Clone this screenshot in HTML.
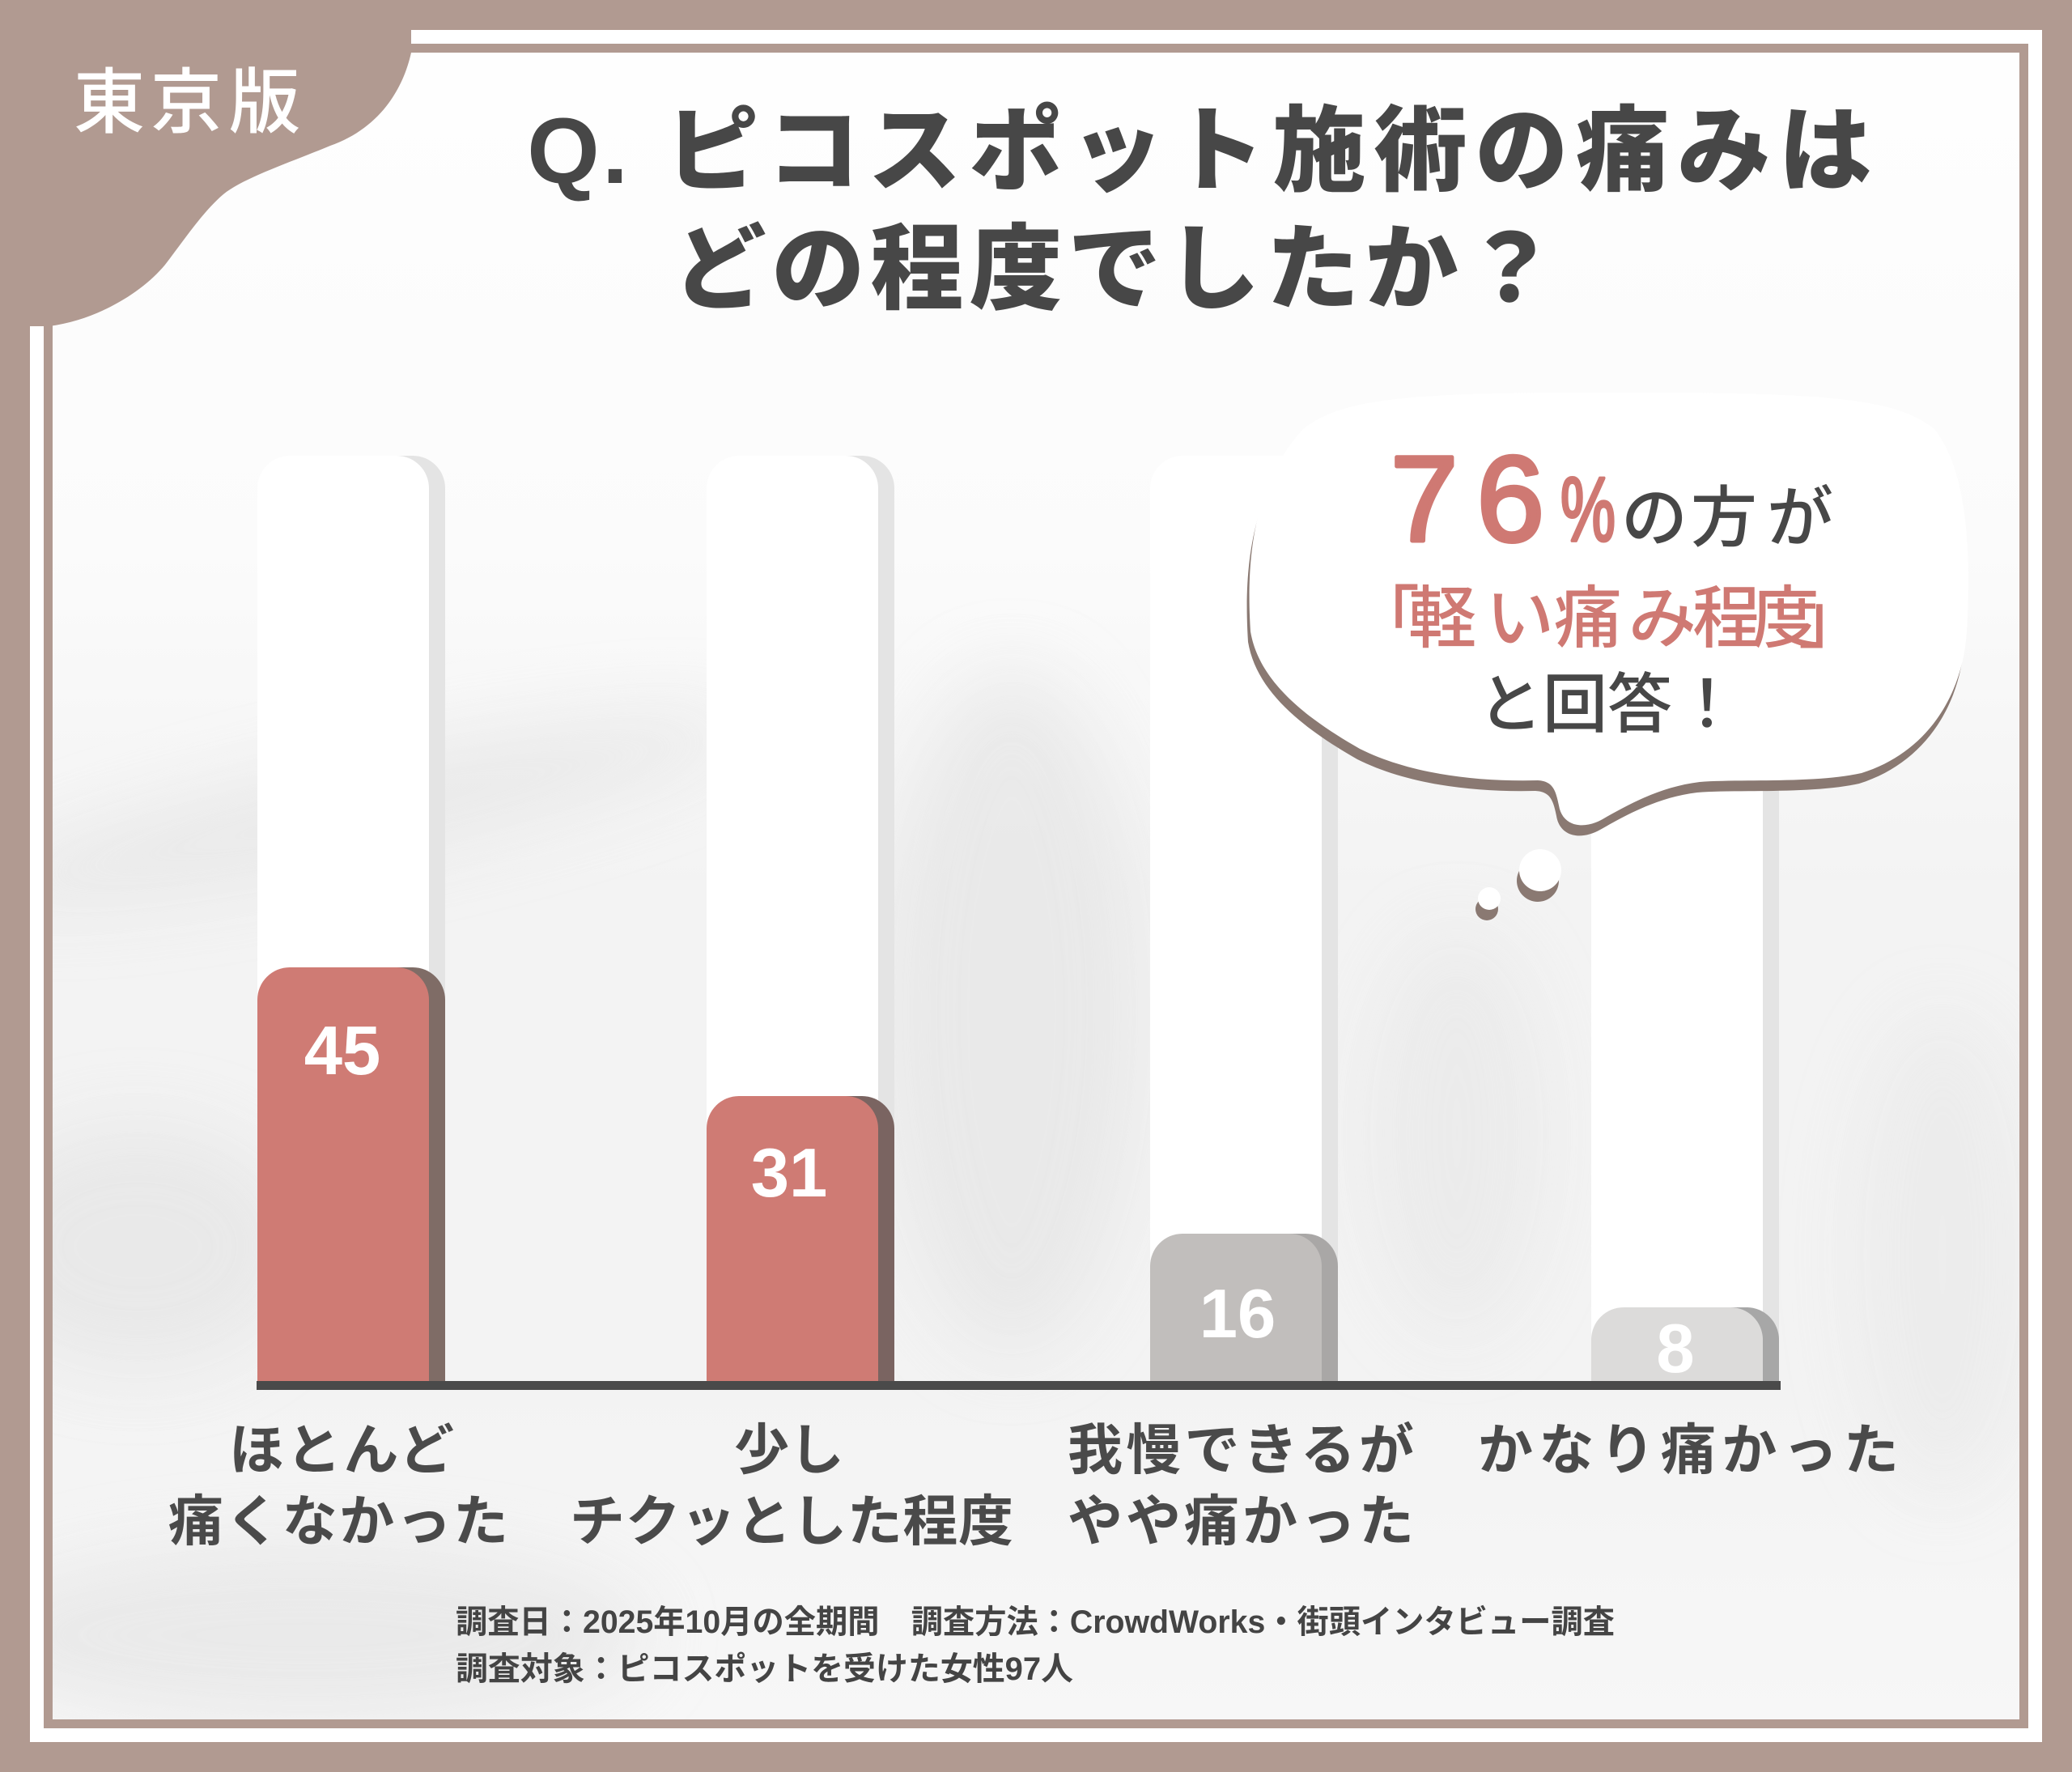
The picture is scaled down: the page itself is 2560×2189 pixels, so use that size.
<!DOCTYPE html>
<html><head><meta charset="utf-8">
<style>
html,body{margin:0;padding:0;background:#b19a91;}
svg{display:block;}
text{font-family:"Liberation Sans","Noto Sans CJK JP",sans-serif;}
</style></head>
<body>
<svg width="2560" height="2189" viewBox="0 0 2560 2189" xmlns="http://www.w3.org/2000/svg">
<defs>
  <linearGradient id="bg" x1="0" y1="0" x2="0" y2="1">
    <stop offset="0" stop-color="#fefefe"/>
    <stop offset="0.3" stop-color="#fbfbfb"/>
    <stop offset="0.5" stop-color="#f3f3f3"/>
    <stop offset="0.8" stop-color="#f3f3f3"/>
    <stop offset="1" stop-color="#f7f7f7"/>
  </linearGradient>
  <filter id="blur" x="-50%" y="-50%" width="200%" height="200%"><feGaussianBlur stdDeviation="45"/></filter>
  <clipPath id="panel"><rect x="65" y="65" width="2430" height="2059"/></clipPath>
</defs>

<!-- outer frame -->
<rect width="2560" height="2189" fill="#b19a91"/>
<rect x="45.5" y="45.5" width="2469" height="2098" fill="none" stroke="#ffffff" stroke-width="17"/>
<rect x="65" y="65" width="2430" height="2059" fill="url(#bg)"/>

<!-- soft texture -->
<g clip-path="url(#panel)">
  <g filter="url(#blur)" fill="#e3e3e3" opacity="0.65">
    <ellipse cx="450" cy="1000" rx="480" ry="60" transform="rotate(-12 450 1000)"/>
    <ellipse cx="170" cy="1540" rx="200" ry="150"/>
    <ellipse cx="380" cy="2020" rx="420" ry="110"/>
    <ellipse cx="1250" cy="1250" rx="160" ry="420"/>
    <ellipse cx="2400" cy="1550" rx="110" ry="300" opacity="0.6"/>
    <ellipse cx="1800" cy="1400" rx="110" ry="250" opacity="0.7"/>
  </g>
</g>

<!-- top-left taupe blob -->
<path d="M0 0 H508 V65 C497 115 465 160 408 180 C360 200 300 220 276 240 C250 262 225 300 204 327 C175 362 120 395 61 403 H0 Z" fill="#b19a91"/>
<text font-size="88" font-weight="500" fill="#ffffff" text-anchor="middle" y="157"><tspan x="135">東</tspan><tspan x="230">京</tspan><tspan x="327">版</tspan></text>

<!-- Title -->
<g font-size="115" font-weight="900" fill="#474747" text-anchor="middle">
  <text x="696" y="226">Q</text>
  <text x="760" y="226">.</text>
  <text x="880" y="226">ピ</text>
  <text x="1005" y="226">コ</text>
  <text x="1130" y="226">ス</text>
  <text x="1255" y="226">ポ</text>
  <text x="1380" y="226">ッ</text>
  <text x="1505" y="226">ト</text>
  <text x="1630" y="226">施</text>
  <text x="1755" y="226">術</text>
  <text x="1880" y="226">の</text>
  <text x="2005" y="226">痛</text>
  <text x="2130" y="226">み</text>
  <text x="2255" y="226">は</text>

  <text x="889" y="372">ど</text>
  <text x="1011" y="372">の</text>
  <text x="1133" y="372">程</text>
  <text x="1255" y="372">度</text>
  <text x="1377" y="372">で</text>
  <text x="1499" y="372">し</text>
  <text x="1622" y="372">た</text>
  <text x="1744" y="372">か</text>
  <text x="1866" y="372">？</text>
</g>

<!-- background columns -->
<g>
  <path d="M338 1706 V603 A40 40 0 0 1 378 563 H510 A40 40 0 0 1 550 603 V1706 Z" fill="#e4e4e4"/>
  <path d="M318 1706 V603 A40 40 0 0 1 358 563 H490 A40 40 0 0 1 530 603 V1706 Z" fill="#ffffff"/>
  <path d="M893 1706 V603 A40 40 0 0 1 933 563 H1065 A40 40 0 0 1 1105 603 V1706 Z" fill="#e4e4e4"/>
  <path d="M873 1706 V603 A40 40 0 0 1 913 563 H1045 A40 40 0 0 1 1085 603 V1706 Z" fill="#ffffff"/>
  <path d="M1441 1706 V603 A40 40 0 0 1 1481 563 H1613 A40 40 0 0 1 1653 603 V1706 Z" fill="#e4e4e4"/>
  <path d="M1421 1706 V603 A40 40 0 0 1 1461 563 H1593 A40 40 0 0 1 1633 603 V1706 Z" fill="#ffffff"/>
  <path d="M1986 1706 V603 A40 40 0 0 1 2026 563 H2158 A40 40 0 0 1 2198 603 V1706 Z" fill="#e4e4e4"/>
  <path d="M1966 1706 V603 A40 40 0 0 1 2006 563 H2138 A40 40 0 0 1 2178 603 V1706 Z" fill="#ffffff"/>
</g>

<!-- bars -->
<g>
  <path d="M338 1706 V1235 A40 40 0 0 1 378 1195 H510 A40 40 0 0 1 550 1235 V1706 Z" fill="#7f6c66"/>
  <path d="M318 1706 V1235 A40 40 0 0 1 358 1195 H490 A40 40 0 0 1 530 1235 V1706 Z" fill="#cf7b74"/>

  <path d="M893 1706 V1394 A40 40 0 0 1 933 1354 H1065 A40 40 0 0 1 1105 1394 V1706 Z" fill="#7a6461"/>
  <path d="M873 1706 V1394 A40 40 0 0 1 913 1354 H1045 A40 40 0 0 1 1085 1394 V1706 Z" fill="#cf7b74"/>

  <path d="M1441 1706 V1564 A40 40 0 0 1 1481 1524 H1613 A40 40 0 0 1 1653 1564 V1706 Z" fill="#a9a7a6"/>
  <path d="M1421 1706 V1564 A40 40 0 0 1 1461 1524 H1593 A40 40 0 0 1 1633 1564 V1706 Z" fill="#c1bebc"/>

  <path d="M1986 1706 V1655 A40 40 0 0 1 2026 1615 H2158 A40 40 0 0 1 2198 1655 V1706 Z" fill="#a7a7a7"/>
  <path d="M1966 1706 V1655 A40 40 0 0 1 2006 1615 H2138 A40 40 0 0 1 2178 1655 V1706 Z" fill="#dcdbda"/>
</g>
<rect x="317" y="1706" width="1883" height="11" fill="#4a4a4a"/>

<g font-size="85" font-weight="700" fill="#ffffff" text-anchor="middle">
  <text x="423" y="1327">45</text>
  <text x="975" y="1478">31</text>
  <text x="1529" y="1652">16</text>
  <text x="2070" y="1695">8</text>
</g>

<!-- speech bubble -->
<g transform="translate(-3 13)" fill="#8a7972">
  <path d="M1545 780 C1540 700 1545 600 1610 530 C1660 490 1750 485 1990 485 C2250 485 2340 490 2390 530 C2430 580 2436 680 2430 780 C2425 860 2380 930 2300 955 C2240 968 2150 962 2100 966 C2050 972 2010 995 1980 1012 C1955 1026 1930 1020 1926 995 C1922 975 1918 965 1900 964 C1820 966 1740 955 1680 925 C1610 885 1555 840 1545 780 Z"/>
  <circle cx="1903" cy="1075" r="26"/>
  <circle cx="1840" cy="1110" r="14"/>
</g>
<g fill="#ffffff">
  <path d="M1545 780 C1540 700 1545 600 1610 530 C1660 490 1750 485 1990 485 C2250 485 2340 490 2390 530 C2430 580 2436 680 2430 780 C2425 860 2380 930 2300 955 C2240 968 2150 962 2100 966 C2050 972 2010 995 1980 1012 C1955 1026 1930 1020 1926 995 C1922 975 1918 965 1900 964 C1820 966 1740 955 1680 925 C1610 885 1555 840 1545 780 Z"/>
  <circle cx="1903" cy="1075" r="26"/>
  <circle cx="1840" cy="1110" r="14"/>
</g>

<!-- bubble text -->
<text x="1718" y="668" font-size="150" font-weight="400" fill="#cf7973" stroke="#cf7973" stroke-width="5" stroke-linejoin="round" textLength="190" lengthAdjust="spacing">76</text>
<text x="1928" y="668" font-size="112" font-weight="400" fill="#cf7973" stroke="#cf7973" stroke-width="4" stroke-linejoin="round" textLength="68" lengthAdjust="spacingAndGlyphs">%</text>
<g font-size="82" font-weight="500" fill="#474747" text-anchor="middle">
  <text x="2044" y="668">の</text>
  <text x="2130" y="668">方</text>
  <text x="2224" y="668">が</text>
</g>
<g font-size="84" font-weight="500" fill="#cf7973" text-anchor="middle">
  <text x="1712" y="793">「</text>
  <text x="1782" y="793">軽</text>
  <text x="1878" y="793">い</text>
  <text x="1962" y="793">痛</text>
  <text x="2054" y="793">み</text>
  <text x="2133" y="793">程</text>
  <text x="2206" y="793">度</text>
  <text x="2264" y="793">」</text>
</g>
<g font-size="80" font-weight="500" fill="#474747" text-anchor="middle">
  <text x="1866" y="898">と</text>
  <text x="1946" y="898">回</text>
  <text x="2026" y="898">答</text>
  <text x="2109" y="898">！</text>
</g>

<!-- category labels -->
<g font-size="68" font-weight="700" fill="#4a4a4a" text-anchor="middle">
  <text x="422" y="1815" textLength="278" lengthAdjust="spacing">ほとんど</text>
  <text x="418" y="1903" textLength="420" lengthAdjust="spacing">痛くなかった</text>
  <text x="975" y="1815" textLength="136" lengthAdjust="spacing">少し</text>
  <text x="978" y="1903" textLength="548" lengthAdjust="spacing">チクッとした程度</text>
  <text x="1533" y="1815" textLength="428" lengthAdjust="spacing">我慢できるが</text>
  <text x="1533" y="1903" textLength="428" lengthAdjust="spacing">やや痛かった</text>
  <text x="2086" y="1815" textLength="520" lengthAdjust="spacing">かなり痛かった</text>
</g>

<!-- footnote -->
<g font-size="40" font-weight="700" fill="#444444">
  <text x="563" y="2017" textLength="1432" lengthAdjust="spacingAndGlyphs">調査日：2025年10月の全期間　調査方法：CrowdWorks・街頭インタビュー調査</text>
  <text x="563" y="2075" textLength="763" lengthAdjust="spacingAndGlyphs">調査対象：ピコスポットを受けた女性97人</text>
</g>
</svg>
</body></html>
